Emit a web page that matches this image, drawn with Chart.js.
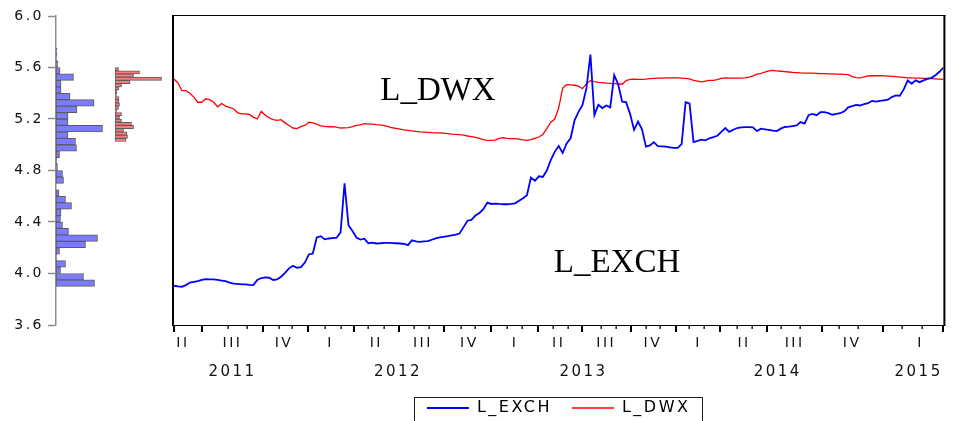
<!DOCTYPE html>
<html>
<head>
<meta charset="utf-8">
<title>L_EXCH and L_DWX</title>
<script src="https://cdn.jsdelivr.net/npm/chart.js"></script>
<style>
  html, body { margin: 0; padding: 0; background: #ffffff; }
  #wrap { position: relative; width: 953px; height: 421px; overflow: hidden; }
  #wrap canvas { position: absolute; top: 0; }
</style>
</head>
<body>
<div id="wrap">
  <canvas id="main" width="953" height="421" style="left:0;width:953px;height:421px"></canvas>
  <canvas id="histExch" width="112" height="421" style="left:0;width:112px;height:421px"></canvas>
  <canvas id="histDwx" width="57" height="421" style="left:115px;width:57px;height:421px"></canvas>
</div>
<script>
// ---- series: one stored sample every STEP observations ----
const STEP = 4;

const lExch = [
  3.905, 3.90, 3.897, 3.91, 3.93, 3.935, 3.94, 3.95, 3.957, 3.955,
  3.954, 3.95, 3.945, 3.94, 3.93, 3.922, 3.92, 3.915, 3.915, 3.912,
  3.91, 3.95, 3.965, 3.97, 3.967, 3.95, 3.955, 3.975, 4.005, 4.04,
  4.06, 4.045, 4.05, 4.085, 4.148, 4.155, 4.28, 4.29, 4.265, 4.272,
  4.275, 4.278, 4.32, 4.70, 4.375, 4.33, 4.28, 4.264, 4.27, 4.235,
  4.24, 4.233, 4.235, 4.238, 4.238, 4.236, 4.235, 4.233, 4.23, 4.22,
  4.258, 4.25, 4.246, 4.25, 4.251, 4.262, 4.272, 4.28, 4.285, 4.29,
  4.296, 4.302, 4.31, 4.36, 4.41, 4.416, 4.45, 4.47, 4.50, 4.55,
  4.54, 4.543, 4.54, 4.538, 4.538, 4.54, 4.545, 4.565, 4.585, 4.608,
  4.745, 4.72, 4.755, 4.75, 4.80, 4.88, 4.945, 4.99, 4.936, 5.01,
  5.05, 5.19, 5.255, 5.31, 5.44, 5.70, 5.23, 5.31, 5.285, 5.305,
  5.29, 5.54, 5.47, 5.335, 5.331, 5.24, 5.115, 5.18, 5.12, 4.985,
  4.995, 5.02, 4.99, 4.988, 4.985, 4.98, 4.975, 4.975, 5.005, 5.33,
  5.32, 5.021, 5.03, 5.04, 5.034, 5.05, 5.06, 5.07, 5.10, 5.13,
  5.10, 5.117, 5.13, 5.135, 5.137, 5.137, 5.135, 5.106, 5.125, 5.12,
  5.115, 5.11, 5.106, 5.125, 5.138, 5.14, 5.145, 5.15, 5.176, 5.164,
  5.23, 5.24, 5.23, 5.253, 5.253, 5.245, 5.233, 5.24, 5.245, 5.26,
  5.29, 5.30, 5.31, 5.305, 5.315, 5.323, 5.34, 5.335, 5.34, 5.345,
  5.35, 5.37, 5.383, 5.38, 5.43, 5.50, 5.474, 5.50, 5.486, 5.50,
  5.512, 5.52, 5.54, 5.567, 5.60
];

const lDwx = [
  5.51, 5.48, 5.42, 5.42, 5.40, 5.37, 5.33, 5.33, 5.357, 5.35,
  5.33, 5.295, 5.32, 5.30, 5.29, 5.28, 5.25, 5.24, 5.24, 5.235,
  5.215, 5.20, 5.259, 5.23, 5.21, 5.195, 5.19, 5.195, 5.17, 5.15,
  5.13, 5.125, 5.14, 5.15, 5.175, 5.17, 5.16, 5.147, 5.143, 5.14,
  5.14, 5.137, 5.13, 5.131, 5.133, 5.14, 5.15, 5.155, 5.164, 5.16,
  5.16, 5.157, 5.155, 5.148, 5.14, 5.132, 5.128, 5.122, 5.116, 5.112,
  5.108, 5.104, 5.10, 5.098, 5.096, 5.094, 5.093, 5.092, 5.09, 5.087,
  5.083, 5.081, 5.078, 5.074, 5.068, 5.063, 5.058, 5.05, 5.04, 5.034,
  5.034, 5.036, 5.05, 5.055, 5.05, 5.048, 5.047, 5.043, 5.038, 5.034,
  5.04, 5.05, 5.06, 5.08, 5.125, 5.175, 5.20, 5.285, 5.44, 5.466,
  5.465, 5.462, 5.455, 5.435, 5.475, 5.498, 5.49, 5.485, 5.482, 5.478,
  5.476, 5.474, 5.472, 5.47, 5.499, 5.508, 5.51, 5.508, 5.507, 5.51,
  5.514, 5.516, 5.517, 5.518, 5.52, 5.52, 5.52, 5.519, 5.517, 5.515,
  5.512, 5.50, 5.495, 5.488, 5.495, 5.50, 5.50, 5.505, 5.515, 5.52,
  5.518, 5.517, 5.517, 5.517, 5.52, 5.525, 5.535, 5.548, 5.555, 5.565,
  5.573, 5.577, 5.574, 5.571, 5.568, 5.565, 5.562, 5.56, 5.558, 5.557,
  5.556, 5.556, 5.555, 5.553, 5.552, 5.551, 5.55, 5.549, 5.548, 5.547,
  5.545, 5.53, 5.522, 5.52, 5.527, 5.535, 5.536, 5.536, 5.536, 5.535,
  5.533, 5.531, 5.529, 5.526, 5.523, 5.52, 5.519, 5.518, 5.517, 5.516,
  5.515, 5.513, 5.511, 5.509, 5.507
];

// ---- marginal histograms (counts per bin, lowest bin first) ----
const exchBinStart = 3.90;
const exchBinWidth = 0.05;
const exchCounts = [
  77, 55, 9, 19, 1, 7, 59, 83, 25, 13,
  9, 10, 31, 19, 6, 0, 15, 13, 3, 2,
  7, 41, 39, 24, 93, 24, 24, 42, 76, 28,
  10, 10, 35, 8, 4, 1, 2
];

const dwxBinStart = 5.025;
const dwxBinWidth = 0.025;
const dwxCounts = [
  22, 25, 24, 17, 37, 33, 13, 9, 13, 3,
  7, 9, 8, 8, 3, 4, 8, 13, 30, 93,
  37, 49, 7
];

// ---- axes ----
const yTickValues = [3.6, 4.0, 4.4, 4.8, 5.2, 5.6, 6.0];
const obsCount = 776;
const quarterBounds = [0, 28, 90, 135, 182, 227, 272, 320, 367, 412, 461, 506, 551, 598, 654, 715, 776];
const monthTicks = [54, 74, 106, 119, 152, 168, 196, 212, 242, 257, 289, 304, 336, 351, 382, 397,
                    431, 446, 476, 490, 519, 535, 568, 583, 612, 631, 671, 690, 734, 754];
const quarterLabels = ['II', 'III', 'IV', 'I', 'II', 'III', 'IV', 'I', 'II', 'III', 'IV', 'I', 'II', 'III', 'IV', 'I'];
const quarterLabelAt = [9, 59, 111, 158, 204, 251, 298, 344, 388, 436, 483, 529, 575, 626, 684, 753];
const yearLabels = ['2011', '2012', '2013', '2014', '2015'];
const yearLabelAt = [59, 226, 413, 609, 751];

// series names written inside the plot (anchored in data units)
const seriesTags = [
  { text: 'L_DWX', obs: 208, value: 5.351 },
  { text: 'L_EXCH', obs: 383, value: 4.012 }
];

const Y_MIN = 3.6, Y_MAX = 6.0;
const AXIS_FONT = 'DejaVu Sans';

// wide axis lettering
const spacingPlugin = (px) => ({
  id: 'letterSpacing',
  beforeLayout(chart) { chart.ctx.letterSpacing = px + 'px'; },
  beforeDraw(chart) { chart.ctx.letterSpacing = px + 'px'; }
});

const toHist = (counts, start, width) =>
  counts.map((c, i) => ({ x: c, y: +(start + (i + 0.5) * width).toFixed(4) }));

const histOptions = (xMax, showAxis) => ({
  indexAxis: 'y',
  responsive: false,
  animation: false,
  layout: { padding: { top: 16, bottom: 96, left: 0, right: 0 } },
  plugins: { legend: { display: false }, tooltip: { enabled: false } },
  scales: {
    x: { type: 'linear', display: false, min: 0, max: xMax },
    y: {
      type: 'linear',
      position: 'left',
      display: showAxis,
      min: Y_MIN,
      max: Y_MAX,
      offset: false,
      afterFit: (s) => { if (showAxis) s.width = 56; },
      afterBuildTicks: (s) => { s.ticks = yTickValues.map(v => ({ value: v })); },
      ticks: {
        font: { family: AXIS_FONT, size: 14 },
        color: '#111',
        padding: 4,
        callback: (v) => Number(v).toFixed(1)
      },
      grid: { offset: false, drawOnChartArea: false, tickLength: 8, tickColor: '#8c8c8c', tickWidth: 1.5 },
      border: { color: '#8c8c8c', width: 1.5 }
    }
  }
});

new Chart(document.getElementById('histExch'), {
  type: 'bar',
  data: {
    datasets: [{
      data: toHist(exchCounts, exchBinStart, exchBinWidth),
      backgroundColor: '#7b7bff',
      borderColor: '#5c5c5c',
      borderWidth: 1,
      borderSkipped: false,
      barPercentage: 1,
      categoryPercentage: 1
    }]
  },
  options: histOptions(112, true),
  plugins: [spacingPlugin(2.5)]
});

new Chart(document.getElementById('histDwx'), {
  type: 'bar',
  data: {
    datasets: [{
      data: toHist(dwxCounts, dwxBinStart, dwxBinWidth),
      backgroundColor: '#ff7b7b',
      borderColor: '#5c5c5c',
      borderWidth: 1,
      borderSkipped: false,
      barPercentage: 1,
      categoryPercentage: 1
    }]
  },
  options: histOptions(114, false)
});

// frame around the plot, quarter / month tick marks, in-plot series names, legend box
const framePlugin = {
  id: 'frame',
  afterDraw(chart) {
    const { ctx, chartArea: a, scales } = chart;
    const xs = scales.x, ys = scales.y;
    ctx.save();
    ctx.letterSpacing = '0px';
    ctx.fillStyle = '#000';
    ctx.fillRect(a.left - 1, a.top - 1, a.right - a.left + 3, 1);
    ctx.fillRect(a.left - 1, a.bottom, a.right - a.left + 3, 1);
    ctx.fillRect(a.left - 2, a.top - 1, 2, a.bottom - a.top + 2);
    ctx.fillRect(a.right, a.top - 1, 2, a.bottom - a.top + 2);

    quarterBounds.forEach(v => {
      const px = Math.round(xs.getPixelForValue(v));
      ctx.fillRect(px - 1, a.bottom, 2, 7);
    });
    monthTicks.forEach(v => {
      const px = Math.round(xs.getPixelForValue(v));
      ctx.fillRect(px - 0.5, a.bottom, 1.3, 4);
    });

    ctx.font = '33px "Liberation Serif"';
    ctx.textAlign = 'left';
    ctx.textBaseline = 'alphabetic';
    ctx.fillStyle = '#000';
    seriesTags.forEach(t => {
      ctx.fillText(t.text, xs.getPixelForValue(t.obs), ys.getPixelForValue(t.value));
    });

    const hb = chart.legend && chart.legend.legendHitBoxes;
    if (hb && hb.length) {
      const left = Math.min(...hb.map(h => h.left)) - 13;
      const right = Math.max(...hb.map(h => h.left + h.width)) + 11;
      const top = hb[0].top - 3;
      ctx.strokeStyle = '#222';
      ctx.lineWidth = 1;
      ctx.strokeRect(Math.round(left) + 0.5, Math.round(top) + 0.5, Math.round(right - left), 40);
    }
    ctx.restore();
  }
};

new Chart(document.getElementById('main'), {
  type: 'line',
  data: {
    datasets: [
      {
        label: 'L_EXCH',
        data: lExch.map((v, i) => ({ x: i * STEP, y: v })),
        borderColor: '#0000ff',
        backgroundColor: '#0000ff',
        borderWidth: 1.8,
        pointRadius: 0,
        tension: 0
      },
      {
        label: 'L_DWX',
        data: lDwx.map((v, i) => ({ x: i * STEP, y: v })),
        borderColor: '#ff0000',
        backgroundColor: '#ff0000',
        borderWidth: 1.3,
        pointRadius: 0,
        tension: 0
      }
    ]
  },
  options: {
    responsive: false,
    animation: false,
    layout: { padding: { left: 174, right: 3, top: 16, bottom: -5 } },
    plugins: {
      tooltip: { enabled: false },
      legend: {
        position: 'bottom',
        fullSize: false,
        labels: {
          usePointStyle: true,
          pointStyle: 'line',
          pointStyleWidth: 42,
          padding: 20,
          color: '#000',
          font: { family: AXIS_FONT, size: 16 }
        }
      }
    },
    scales: {
      x: {
        type: 'linear',
        position: 'bottom',
        min: 0,
        max: obsCount,
        weight: 0,
        afterBuildTicks: (s) => { s.ticks = quarterLabelAt.map(v => ({ value: v })); },
        afterFit: (s) => { s.height = 28; },
        ticks: {
          autoSkip: false,
          maxRotation: 0,
          padding: 10,
          color: '#111',
          font: { family: AXIS_FONT, size: 14 },
          callback: (v, i) => quarterLabels[i]
        },
        grid: { display: false, drawTicks: false },
        border: { display: false }
      },
      xYear: {
        type: 'linear',
        axis: 'x',
        position: 'bottom',
        min: 0,
        max: obsCount,
        weight: 1,
        afterBuildTicks: (s) => { s.ticks = yearLabelAt.map(v => ({ value: v })); },
        afterFit: (s) => { s.height = 27; },
        ticks: {
          autoSkip: false,
          maxRotation: 0,
          padding: 10,
          color: '#111',
          font: { family: AXIS_FONT, size: 15 },
          callback: (v, i) => yearLabels[i]
        },
        grid: { display: false, drawTicks: false },
        border: { display: false }
      },
      y: { type: 'linear', display: false, min: Y_MIN, max: Y_MAX }
    }
  },
  plugins: [spacingPlugin(2.5), framePlugin]
});
</script>
</body>
</html>
